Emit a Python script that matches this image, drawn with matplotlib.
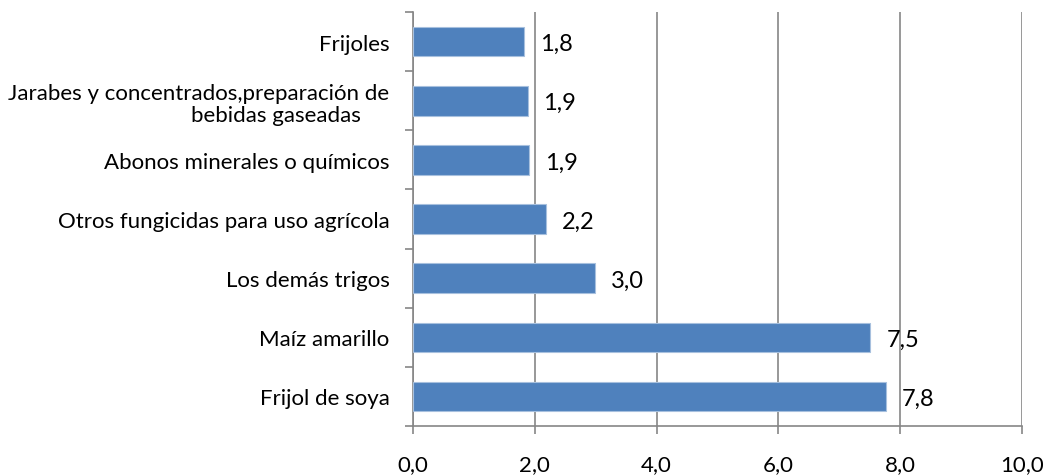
import matplotlib
matplotlib.use("Agg")
import matplotlib.pyplot as plt

categories = [
    "Frijol de soya",
    "Maíz amarillo",
    "Los demás trigos",
    "Otros fungicidas para uso agrícola",
    "Abonos minerales o químicos",
    "Jarabes y concentrados,preparación de\nbebidas gaseadas     ",
    "Frijoles",
]
values = [7.77, 7.51, 2.98, 2.19, 1.90, 1.88, 1.83]
xticks = [0, 2, 4, 6, 8, 10]

plt.rcParams['font.family'] = ['Lato', 'DejaVu Sans']

fig = plt.figure(figsize=(10.44, 4.77), dpi=100)
ax = fig.add_axes([0.3956, 0.1048, 0.979 - 0.3956, 0.9727 - 0.1048])

grid_c = "#868686"
ypos = list(range(len(categories)))
ax.barh(ypos, values, height=0.5, color="#4F81BD", edgecolor="#A7C0DE", linewidth=0.8, zorder=3)

for y, v in zip(ypos, values):
    ax.annotate(f"{v:.1f}".replace(".", ","), xy=(v, y), xytext=(11.5, -1.5), textcoords="offset points",
                ha="left", va="center", fontsize=17, color="black", zorder=4)

ax.set_xlim(0, 10)
ax.set_ylim(-0.5, len(categories) - 0.5)
ax.set_xticks(xticks)
ax.set_xticklabels([f"{t:.1f}".replace(".", ",") for t in xticks], fontsize=16)
ax.set_yticks(ypos)
ax.set_yticklabels(categories, fontsize=16, multialignment="right", linespacing=1.15)
ax.set_yticks([i - 0.5 for i in range(len(categories) + 1)], minor=True)

ax.grid(axis="x", color=grid_c, linewidth=1.2, zorder=0)
for s in ["top", "right"]:
    ax.spines[s].set_visible(False)
for s in ["left", "bottom"]:
    ax.spines[s].set_color(grid_c)
    ax.spines[s].set_linewidth(1.2)

ax.tick_params(axis="y", which="major", length=0, pad=17)
ax.tick_params(axis="y", which="minor", length=6, color=grid_c, width=1.2)
ax.tick_params(axis="x", which="major", length=6, color=grid_c, width=1.2, pad=14)

fig.savefig("out.png", dpi=100)
